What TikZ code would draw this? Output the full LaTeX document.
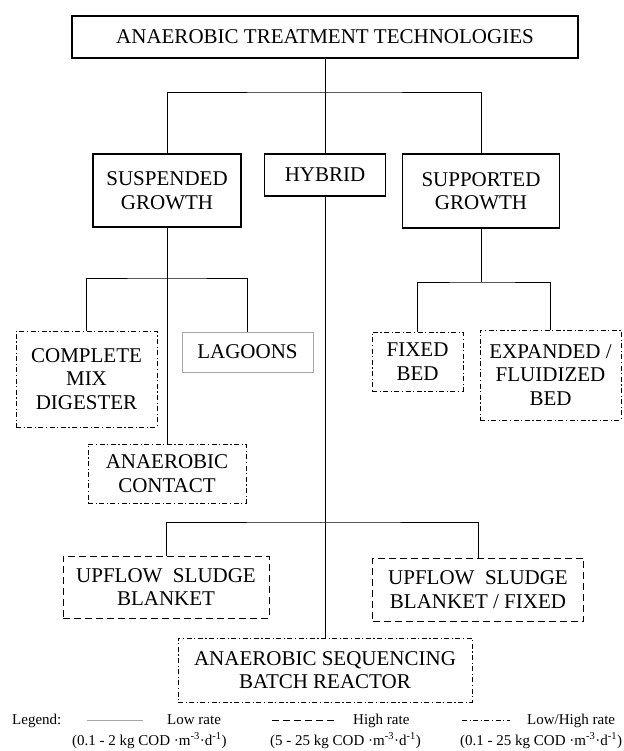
\documentclass[tikz,border=0pt]{standalone}
\usepackage{fontspec}
\setmainfont{Liberation Serif}

\begin{document}
\begin{tikzpicture}
[bx/.style={draw,line width=1.1pt,align=center,inner sep=0pt,font=\fontsize{21}{23.5}\selectfont},
 lo/.style={draw=black!35,line width=0.7pt},
 hi/.style={line width=0.9pt,dash pattern=on 7pt off 4pt},
 lohi/.style={line width=0.9pt,dash pattern=on 5pt off 2.5pt on 1.2pt off 2.5pt},
 ln/.style={line width=0.9pt},
 lg/.style={anchor=base west,inner sep=0pt,font=\fontsize{15}{17}\selectfont}]
\useasboundingbox (0pt,0pt) rectangle (623pt,-751pt);

\node [bx][minimum width=506pt,minimum height=42pt] at (325pt,-37pt) (T) {ANAEROBIC TREATMENT TECHNOLOGIES};

\node [bx][minimum width=148pt,minimum height=73pt] at (167pt,-190.5pt) (S) {SUSPENDED\\GROWTH};
\node [bx][minimum width=121pt,minimum height=42pt] at (325pt,-175pt) (H) {HYBRID};
\node [bx][minimum width=157pt,minimum height=74pt] at (481pt,-191pt) (P) {SUPPORTED\\GROWTH};

\node [bx,lohi][minimum width=141pt,minimum height=96pt] at (86.5pt,-379pt) (C) {COMPLETE\\MIX\\DIGESTER};
\node [bx,lo][minimum width=131pt,minimum height=40pt] at (247.5pt,-352pt) (L) {LAGOONS};
\node [bx,lohi][minimum width=91pt,minimum height=59pt] at (417.5pt,-361.5pt) (F) {FIXED\\BED};
\node [bx,lohi][minimum width=141pt,minimum height=90pt] at (550.5pt,-375pt) (E) {EXPANDED /\\FLUIDIZED\\BED};

\node [bx,lohi][minimum width=158pt,minimum height=59pt] at (167pt,-473.5pt) (A) {ANAEROBIC\\CONTACT};

\node [bx,hi][minimum width=206pt,minimum height=62pt] at (166pt,-587pt) (U) {UPFLOW\enspace SLUDGE\\BLANKET};
\node [bx,hi][minimum width=211pt,minimum height=63pt] at (478pt,-589.5pt) (V) {UPFLOW\enspace SLUDGE\\BLANKET / FIXED};
\node [bx,lohi][minimum width=294pt,minimum height=64pt] at (325pt,-670pt) (R) {ANAEROBIC SEQUENCING\\BATCH REACTOR};

% tree
\coordinate (j1) at (325pt,-92pt);
\coordinate (j2) at (167pt,-278pt);
\coordinate (j3) at (481pt,-282pt);
\coordinate (j4) at (325pt,-522pt);

\draw [ln] (T) -- (H);
\draw [ln] (S.north) |- (j1) -| (P.north);

\draw [ln] (S) -- (A);
\draw [ln] (C.north) |- (j2) -| (L.north);

\draw [ln] (P) -- (j3);
\draw [ln] (F.north) |- (j3) -| (E.north);

\draw [ln] (H) -- (R);
\draw [ln] (U.north) |- (j4) -| (V.north);

% legend
\node [lg] at (12pt,-724pt) (G) {Legend:};
\coordinate (g1) at (87pt,-720pt);
\coordinate (g2) at (143pt,-720pt);
\draw [lo] (g1) -- (g2);
\node [lg] at (167pt,-724pt) (G1) {Low rate};
\node [lg] at (72pt,-745pt) (G2) {(0.1 - 2 kg COD ·m\textsuperscript{-3}·d\textsuperscript{-1})};

\coordinate (h1) at (272pt,-720pt);
\coordinate (h2) at (337pt,-720pt);
\draw [hi] (h1) -- (h2);
\node [lg] at (353pt,-724pt) (H1) {High rate};
\node [lg] at (270pt,-745pt) (H2) {(5 - 25 kg COD ·m\textsuperscript{-3}·d\textsuperscript{-1})};

\coordinate (k1) at (462pt,-720pt);
\coordinate (k2) at (510pt,-720pt);
\draw [lohi] (k1) -- (k2);
\node [lg] at (527pt,-724pt) (K1) {Low/High rate};
\node [lg] at (460pt,-745pt) (K2) {(0.1 - 25 kg COD ·m\textsuperscript{-3}·d\textsuperscript{-1})};
\end{tikzpicture}
\end{document}
